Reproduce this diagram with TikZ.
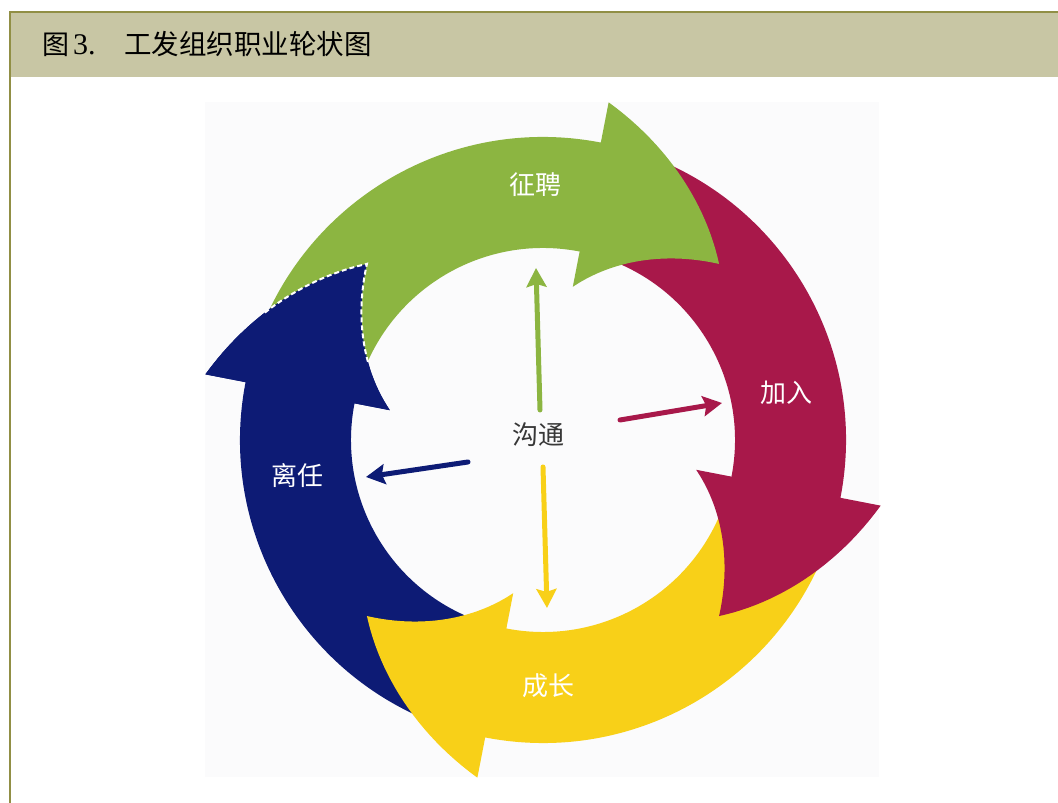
\documentclass[tikz,border=0pt]{standalone}
\usepackage{fontspec}
\setmainfont{Liberation Serif}
\newfontfamily\cjk{Noto Sans CJK SC}
\usetikzlibrary{arrows.meta}

\definecolor{recruitcol}{RGB}{140,181,65}
\definecolor{joincol}{RGB}{168,24,74}
\definecolor{growcol}{RGB}{248,208,24}
\definecolor{leavecol}{RGB}{13,27,117}
\definecolor{headfill}{RGB}{200,198,164}
\definecolor{headline}{RGB}{145,143,69}
\definecolor{panel}{RGB}{251,251,252}
\definecolor{talkgray}{RGB}{55,55,55}

% one ring arrow: tail at 165, head base at 79, tip at 45 (rotated by #1)
\newcommand{\ringarrow}[2]{%
  \fill[#2,rotate=#1] (165:303) arc[start angle=165,end angle=79,radius=303] -- (79:344)
    -- plot[domain=0:1,samples=25,variable=\t] ({79-34*\t}:{344-95*\t})
    -- plot[domain=1:0,samples=25,variable=\t] ({79-34*\t}:{156+93*\t})
    -- (79:192) arc[start angle=79,end angle=165,radius=192] -- cycle;}

\begin{document}
\begin{tikzpicture}[x=1pt,y=1pt]

\tikzstyle{ringlabel}=[text=white,inner sep=0pt,font=\cjk\fontsize{26}{28}\selectfont]
\tikzstyle{talk}=[line width=5pt,line cap=round,-{Stealth[length=19pt,width=20pt,inset=3pt]}]

\useasboundingbox (0,0) rectangle (1058,803);

%caption bar
\fill[headfill] (10,726) rectangle (1058,791);
\draw[headline,line width=2pt] (10,0) -- (10,791) -- (1058,791);
\node[anchor=base west,inner sep=0pt,font=\fontsize{30}{32}\selectfont] (fignum) at (42,748)
  {{\cjk\fontsize{27}{30}\selectfont 图}\hspace{4pt}3.};
\node[anchor=base west,inner sep=0pt,font=\cjk\fontsize{27.5}{30}\selectfont] (figtitle) at (124,748)
  {工发组织职业轮状图};

%picture panel
\fill[panel] (205,26) rectangle (879,701);

%the wheel
\begin{scope}[shift={(543,363)}]
\ringarrow{90}{leavecol}
\ringarrow{180}{growcol}
\ringarrow{-90}{joincol}
\ringarrow{0}{recruitcol}
%blue head once more, over the green tail
\fill[leavecol,rotate=90] (79:344)
    -- plot[domain=0:1,samples=25,variable=\t] ({79-34*\t}:{344-95*\t})
    -- plot[domain=1:0,samples=25,variable=\t] ({79-34*\t}:{156+93*\t}) -- cycle;
\draw[white,line width=2pt,dash pattern=on 5pt off 3pt,rotate=90]
    plot[domain=0.4:1,samples=25,variable=\t] ({79-34*\t}:{344-95*\t})
    -- plot[domain=1:0.37,samples=25,variable=\t] ({79-34*\t}:{156+93*\t});
\end{scope}

%stage names
\node[ringlabel] (recruitlbl) at (535,618) {征聘};
\node[ringlabel] (joinlbl)    at (786,410) {加入};
\node[ringlabel] (growlbl)    at (548,117) {成长};
\node[ringlabel] (leavelbl)   at (297,327) {离任};

%communication hub
\node[text=talkgray,inner sep=0pt,font=\cjk\fontsize{26}{28}\selectfont] (talk) at (538,368) {沟通};

\coordinate (g0) at (540,393);
\coordinate (g1) at (536,535);
\coordinate (j0) at (620,383);
\coordinate (j1) at (722,400);
\coordinate (y0) at (543,336);
\coordinate (y1) at (547,195);
\coordinate (b0) at (468,341);
\coordinate (b1) at (366,326);

\path (g0) edge[talk,recruitcol] (g1)
      (j0) edge[talk,joincol]    (j1)
      (y0) edge[talk,growcol]    (y1)
      (b0) edge[talk,leavecol]   (b1);

\end{tikzpicture}
\end{document}
